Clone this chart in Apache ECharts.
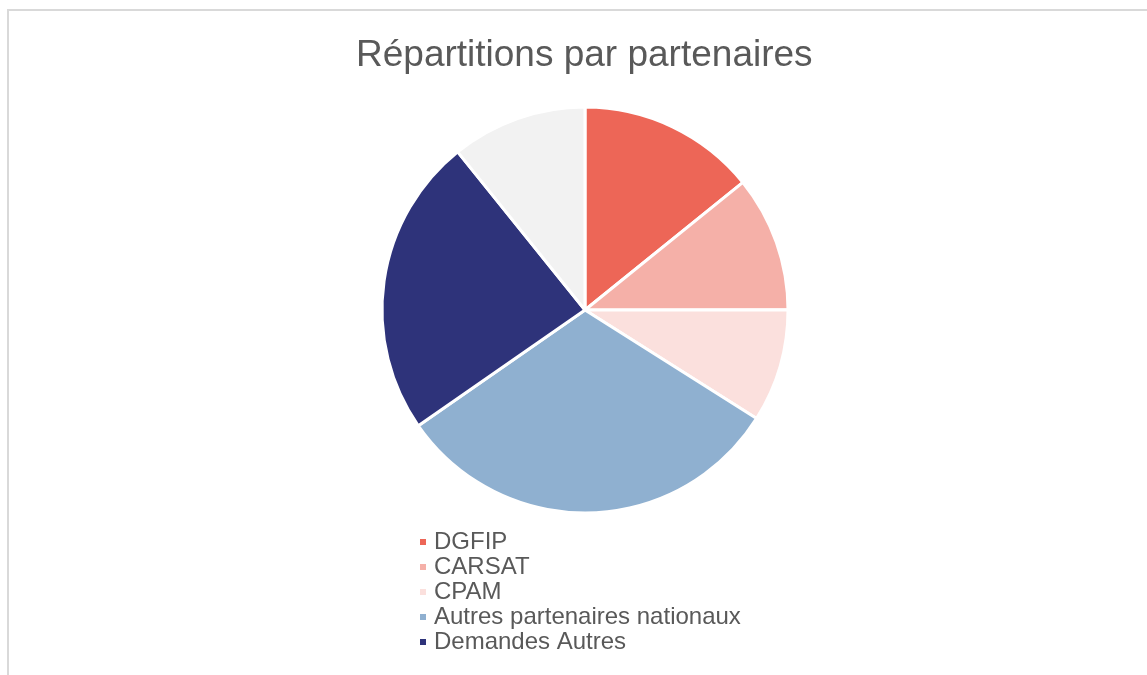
<!DOCTYPE html>
<html>
<head>
<meta charset="utf-8">
<script src="https://cdn.jsdelivr.net/npm/echarts@6/dist/echarts.min.js"></script>
<style>
  html, body { margin: 0; padding: 0; background: #fff; }
  #chart { width: 1147px; height: 675px; }
</style>
</head>
<body>
<div id="chart"></div>
<script>
// slices, clockwise from 12 o'clock
const categories = ['DGFIP', 'CARSAT', 'CPAM', 'Autres partenaires nationaux', 'Demandes Autres', 'Autres'];
const values = [14.2, 10.8, 9.0, 31.4, 23.9, 10.8];
const colors = ['#ED6657', '#F5B0A8', '#FBE0DD', '#8FB0D0', '#2E337A', '#F2F2F2'];
const legendNames = categories.slice(0, 5);

const chart = echarts.init(document.getElementById('chart'));
chart.setOption({
    animation: false,
    title: {
        text: 'Répartitions par partenaires',
        left: 351,
        top: 32,
        textStyle: { fontFamily: 'Liberation Sans, Arial', fontSize: 37, fontWeight: 'normal', color: '#595959' }
    },
    graphic: [{
        type: 'rect',
        shape: { x: 8, y: 10, width: 1200, height: 700 },
        style: { fill: 'none', stroke: '#d9d9d9', lineWidth: 2 },
        silent: true
    }],
    legend: {
        orient: 'vertical',
        left: 413,
        top: 525,
        itemWidth: 8,
        itemHeight: 8,
        itemGap: 1,
        icon: 'rect',
        data: legendNames,
        textStyle: { fontFamily: 'Liberation Sans, Arial', fontSize: 24, lineHeight: 24, color: '#595959', padding: [0, 0, 0, 2] }
    },
    series: [{
        type: 'pie',
        center: [585, 310],
        radius: [0, 203],
        startAngle: 90,
        clockwise: true,
        label: { show: false },
        labelLine: { show: false },
        itemStyle: { borderColor: '#fff', borderWidth: 3 },
        data: categories.map((c, i) => ({ name: c, value: values[i], itemStyle: { color: colors[i] } }))
    }]
});
</script>
</body>
</html>
